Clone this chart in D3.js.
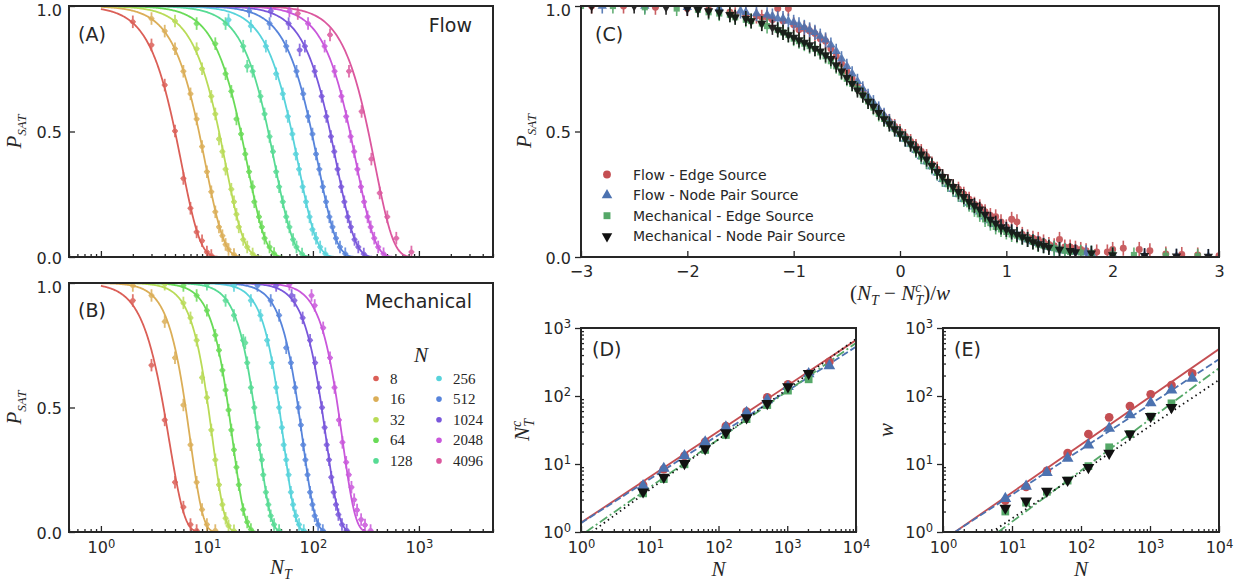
<!DOCTYPE html>
<html>
<head>
<meta charset="utf-8">
<script src="https://cdn.jsdelivr.net/npm/d3@7"></script>
<style>
  body { margin: 0; background: #fff; }
  svg { display: block; }
</style>
</head>
<body>
<script>
// ---- data ----
const sizes = [8, 16, 32, 64, 128, 256, 512, 1024, 2048, 4096];

// fit parameters for the P_SAT curves (midpoint N_T where P = 0.5, shape)
const flowNc = [5.0, 8.4, 13.0, 20.8, 37.9, 63, 97, 145, 223, 333];
const flowK = [2.5, 2.5, 2.5, 2.5, 2.5, 2.5, 2.5, 2.5, 2.5, 2.5];
const mechNc = [3.9, 6.3, 10.3, 15.9, 27.9, 48.1, 72.6, 121, 172];
const mechK = [3.0, 3.6, 3.8, 3.8, 3.8, 3.9, 3.7, 3.6, 3.6];

// measured points [N_T, P_SAT], one list per N
const flowPts = [
  [[2,.937],[3,.845],[4,.685],[5,.502],[6,.313],[7,.194],[8,.1],[9,.065],[10,.02],[11,.006]],
  [[3,.95],[4,.9],[5,.83],[6,.74],[7,.65],[8,.55],[9,.44],[10,.34],[11,.26],[12,.18],[13,.12],[14,.085],[15,.05],[16,.03],[18,.01]],
  [[5,.94],[8,.83],[9,.75],[11,.64],[12,.57],[13,.47],[14,.42],[15,.35],[17,.27],[18,.22],[19,.17],[20,.12],[22,.07],[24,.04],[27,.012]],
  [[8,.93],[12,.85],[15,.73],[17,.66],[19,.55],[21,.49],[23,.41],[25,.34],[27,.28],[28,.22],[31,.16],[33,.12],[35,.075],[39,.04],[43,.014]],
  [[15,.93],[22,.84],[24,.76],[27,.74],[32,.64],[35,.57],[39,.48],[42,.42],[45,.34],[48,.28],[52,.22],[56,.16],[60,.12],[65,.07],[70,.04],[79,.012]],
  [[16,.945],[26,.92],[36,.84],[45,.73],[52,.65],[58,.56],[64,.49],[69,.41],[74,.35],[80,.28],[86,.22],[93,.16],[99,.11],[107,.075],[117,.04],[131,.013]],
  [[25,.98],[39,.93],[56,.84],[70,.74],[81,.65],[90,.56],[99,.49],[107,.41],[115,.35],[124,.28],[133,.22],[143,.16],[153,.12],[165,.075],[180,.04],[202,.013]],
  [[40,.98],[59,.93],[75,.825],[84,.84],[104,.74],[121,.64],[134,.56],[148,.48],[159,.42],[171,.35],[185,.28],[198,.22],[213,.16],[228,.12],[247,.07],[268,.04],[302,.012]],
  [[60,.98],[90,.93],[129,.84],[160,.74],[186,.64],[206,.56],[227,.48],[245,.42],[263,.35],[284,.28],[304,.22],[328,.16],[351,.12],[379,.075],[413,.04],[464,.013]],
  [[72,.97],[145,.885],[219,.74],[288,.58],[356,.39],[427,.255],[503,.16],[612,.075],[850,.02]]
];
const mechPts = [
  [[2,.93],[3,.67],[4,.45],[5,.2],[6,.1],[7,.03],[8,.006]],
  [[2,.99],[3,.95],[4,.845],[5,.7],[6,.51],[7,.35],[8,.2],[9,.09],[10,.03],[12,.006]],
  [[4,.995],[6,.92],[7,.86],[8,.77],[9,.62],[10,.54],[11,.41],[12,.29],[13,.19],[14,.11],[15,.055],[16,.025],[18,.005]],
  [[6,.99],[8,.95],[10,.89],[12,.79],[13,.73],[14,.65],[15,.57],[16,.49],[17,.41],[18,.33],[19,.26],[20,.19],[22,.09],[24,.04],[26,.01]],
  [[10,.995],[15,.93],[18,.87],[22,.77],[23,.76],[24,.68],[26,.58],[28,.5],[30,.42],[31,.35],[33,.29],[34,.23],[36,.16],[38,.11],[40,.065],[43,.03],[48,.006]],
  [[18,.99],[26,.93],[32,.87],[37,.77],[41,.68],[45,.58],[48,.5],[51,.42],[53,.35],[56,.29],[59,.23],[62,.16],[65,.11],[69,.065],[74,.03],[82,.006]],
  [[30,.99],[40,.93],[48,.87],[56,.74],[62,.68],[68,.58],[73,.5],[77,.43],[81,.35],[85,.29],[89,.23],[94,.16],[99,.11],[104,.065],[112,.03],[124,.006]],
  [[45,.99],[63,.95],[67,.93],[80,.86],[94,.77],[105,.68],[114,.58],[122,.5],[129,.42],[135,.35],[142,.29],[149,.22],[157,.16],[165,.11],[174,.07],[188,.03],[208,.007]],
  [[60,.995],[97,.95],[104,.91],[125,.82],[145,.7],[160,.58],[176,.45],[190,.36],[206,.28],[218,.23],[231,.18],[245,.13],[261,.088],[285,.05],[310,.028],[350,.006]]
];

// collapsed data [(N_T - N_T^c)/w, P_SAT]
const cFlowEdge = [[-2.9,1],[-2.6,1],[-2.3,.995],[-2.0,.99],[-1.8,.985],[-1.6,.975],[-1.45,.965],[-1.3,.955],[-1.2,.945],[-1.15,.99],[-1.1,.94],[-1.05,.99],[-1.0,.925],[-0.9,.91],[-0.8,.89],[-0.7,.86],[-0.6,.8],[-0.5,.74],[-0.4,.68],[-0.3,.63],[-0.2,.58],[-0.1,.54],[0,.5],[0.1,.46],[0.2,.42],[0.3,.37],[0.4,.32],[0.5,.28],[0.6,.25],[0.7,.21],[0.8,.18],[0.9,.16],[1.0,.12],[1.1,.14],[1.2,.08],[1.3,.07],[1.4,.05],[1.5,.07],[1.6,.04],[1.7,.03],[1.85,.02],[2.0,.03],[2.1,.035],[2.25,.03],[2.35,.025],[2.5,.012],[2.65,.01],[2.8,.008],[3.0,.005],
  [-1.55,.965],[-1.35,.96],[-1.25,.955],[-0.95,.905],[-0.85,.9],[-0.75,.87],[-0.65,.83],[-0.55,.77],[-0.45,.71],[-0.35,.66],[-0.25,.6],[-0.15,.56],[-0.05,.52],[0.05,.48],[0.15,.44],[0.25,.4],[0.35,.35],[0.45,.3],[0.55,.27],[0.65,.23],[0.75,.2],[0.85,.165],[0.95,.14],[1.05,.15],[1.15,.09],[1.25,.075],[1.35,.06],[1.45,.045],[1.55,.04],[1.65,.035],[1.75,.025],[1.95,.02]];
const cFlowNode = [[-2.8,1],[-2.4,1],[-2.0,.995],[-1.7,.99],[-1.5,.98],[-1.35,.97],[-1.2,.96],[-1.1,.95],[-1.0,.935],[-0.9,.915],[-0.8,.895],[-0.7,.865],[-0.6,.82],[-0.5,.76],[-0.4,.7],[-0.3,.64],[-0.2,.59],[-0.1,.54],[0,.49],[0.1,.45],[0.2,.4],[0.3,.36],[0.4,.31],[0.5,.27],[0.6,.23],[0.7,.2],[0.8,.16],[0.9,.13],[1.0,.11],[1.1,.09],[1.2,.07],[1.3,.055],[1.4,.04],[1.5,.03],[1.65,.02],[1.8,.015],[2.0,.01],[2.3,.005],[2.6,.003],[2.9,.002],
  [-1.45,.975],[-1.25,.965],[-1.15,.95],[-1.05,.94],[-0.95,.925],[-0.85,.905],[-0.75,.88],[-0.65,.845],[-0.55,.79],[-0.45,.73],[-0.35,.67],[-0.25,.615],[-0.15,.565],[-0.05,.515],[0.05,.47],[0.15,.425],[0.25,.38],[0.35,.335],[0.45,.29],[0.55,.25],[0.65,.215],[0.75,.18],[0.85,.145],[0.95,.12],[1.05,.1],[1.15,.08],[1.25,.062],[1.35,.047],[1.45,.035],[1.55,.025],[1.75,.017]];
const cMechEdge = [[-3.0,1],[-2.7,1],[-2.4,.995],[-2.1,.99],[-1.9,.985],[-1.7,.97],[-1.55,.955],[-1.4,.94],[-1.25,.92],[-1.1,.895],[-1.0,.87],[-0.9,.85],[-0.8,.83],[-0.7,.8],[-0.6,.76],[-0.5,.71],[-0.4,.67],[-0.3,.62],[-0.2,.57],[-0.1,.53],[0,.49],[0.1,.45],[0.2,.4],[0.3,.36],[0.4,.31],[0.5,.27],[0.6,.23],[0.7,.19],[0.8,.15],[0.9,.12],[1.0,.1],[1.1,.085],[1.2,.07],[1.3,.05],[1.4,.04],[1.5,.03],[1.6,.02],[1.8,.015],[2.0,.01],[2.2,.008],[2.5,.005],[2.8,.003],
  [-1.8,.975],[-1.6,.965],[-1.45,.945],[-1.3,.93],[-1.15,.905],[-1.05,.885],[-0.95,.86],[-0.85,.84],[-0.75,.815],[-0.65,.78],[-0.55,.735],[-0.45,.69],[-0.35,.645],[-0.25,.595],[-0.15,.55],[-0.05,.51],[0.05,.47],[0.15,.425],[0.25,.38],[0.35,.335],[0.45,.29],[0.55,.25],[0.65,.21],[0.75,.17],[0.85,.135],[0.95,.11],[1.05,.09],[1.15,.078],[1.25,.06],[1.35,.045],[1.45,.035],[1.55,.025],[1.7,.018]];
const cMechNode = [[-2.9,1],[-2.5,1],[-2.2,.995],[-2.0,.99],[-1.8,.98],[-1.6,.965],[-1.45,.95],[-1.3,.93],[-1.15,.905],[-1.05,.885],[-0.95,.865],[-0.85,.845],[-0.75,.82],[-0.65,.79],[-0.55,.74],[-0.45,.69],[-0.35,.645],[-0.25,.6],[-0.15,.55],[-0.05,.51],[0.05,.47],[0.15,.43],[0.25,.39],[0.35,.34],[0.45,.3],[0.55,.26],[0.65,.22],[0.75,.19],[0.85,.15],[0.95,.12],[1.05,.1],[1.15,.08],[1.25,.06],[1.35,.045],[1.5,.03],[1.65,.02],[1.8,.015],[2.0,.008],[2.3,.005],[2.6,.003],[2.9,.002],
  [-1.9,.985],[-1.7,.975],[-1.55,.955],[-1.4,.94],[-1.2,.915],[-1.1,.895],[-1.0,.875],[-0.9,.855],[-0.8,.83],[-0.7,.805],[-0.6,.765],[-0.5,.715],[-0.4,.665],[-0.3,.62],[-0.2,.575],[-0.1,.53],[0,.49],[0.1,.45],[0.2,.41],[0.3,.365],[0.4,.32],[0.5,.28],[0.6,.24],[0.7,.205],[0.8,.17],[0.9,.135],[1.0,.11],[1.1,.09],[1.2,.07],[1.3,.052],[1.4,.038],[1.6,.025]];

// (D) critical N_T^c and (E) width w against N
const dFlowEdge = [4.9, 8.4, 13.2, 21.2, 36, 58.8, 95.6, 148, 215, 318];
const dFlowNode = [4.8, 8.6, 13.2, 21, 35, 57, 88, 137, 212, 278];
const dMechEdge = [3.7, 6.0, 9.9, 16.1, 26.7, 45.7, 73.6, 120, 176];
const dMechNode = [3.9, 6.4, 10.2, 16.8, 28.8, 48, 78, 137, 215];
const eFlowEdge = [2.9, 4.6, 7.9, 14.5, 27.6, 48.6, 71, 106, 145, 215];
const eFlowNode = [3.1, 4.7, 7.5, 12.1, 19, 33.5, 52.6, 79, 122, 182];
const eMechEdge = [2.0, 2.7, 3.9, 5.7, 9.3, 17.6, 27.6, 50, 78];
const eMechNode = [2.25, 2.86, 4.0, 5.8, 8.9, 14.4, 27.6, 50, 68];

// power-law fit lines, end points [N, value]
const dFits = [[[1,1.37],[1e4,665]], [[1,1.35],[1e4,530]], [[1.18,1],[1e4,600]], [[1.43,1],[1e4,690]]];
const eFits = [[[1.49,1],[1e4,490]], [[1.49,1],[1e4,347]], [[6.3,1],[1e4,257]], [[5.1,1],[1e4,172]]];

const seriesNames = ["Flow - Edge Source", "Flow - Node Pair Source", "Mechanical - Edge Source", "Mechanical - Node Pair Source"];

// ---- styling ----
const ink = "#262626";
const pal = sizes.map((_, i) => d3.hsl((0.01 + i / 10) * 360, 0.65, 0.6).formatHex());
const sCol = ["#c44e52", "#4c72b0", "#55a868", "#111111"];
const sSym = [d3.symbolCircle, d3.symbolTriangle, d3.symbolSquare, d3.symbolTriangle];
const sRot = [0, 0, 0, 180];
const sDash = [null, "7,3", "9,3,2,3", "1.5,3.5"];

const W = 1246, H = 586;
const svg = d3.select("body").append("svg")
  .attr("width", W).attr("height", H)
  .style("font-family", "'DejaVu Sans', sans-serif");

const fitP = (n, nc, k) => Math.exp(-Math.LN2 * Math.pow(n / nc, k));

function logTicks(lo, hi) {
  const major = [], minor = [];
  for (let e = Math.floor(Math.log10(lo)); e <= Math.ceil(Math.log10(hi)); e++) {
    for (let m = 1; m < 10; m++) {
      const v = m * Math.pow(10, e);
      if (v < lo * 0.999 || v > hi * 1.001) continue;
      (m === 1 ? major : minor).push(v);
    }
  }
  return { major, minor };
}

function supText(sel) {
  sel.each(function (d) {
    const t = d3.select(this);
    const e = Math.round(Math.log10(d));
    t.text(null);
    t.append("tspan").text("10");
    t.append("tspan").attr("dy", "-0.5em").attr("font-size", "0.72em").text(e);
  });
}

function styleAxis(g) {
  g.select(".domain").remove();
  g.selectAll(".tick line").attr("stroke", ink).attr("stroke-width", 1.3);
  g.selectAll(".tick text").attr("fill", ink).attr("font-size", 16)
    .attr("font-family", "'DejaVu Sans', sans-serif");
}

// keep the top "1.0" label inside the picture
function unitTicks(gy) {
  gy.selectAll(".tick text").attr("dy", d => d === 1 ? "0.57em" : "0.38em");
}

function frame(x0, y0, x1, y1) {
  svg.append("rect").attr("x", x0).attr("y", y0).attr("width", x1 - x0).attr("height", y1 - y0)
    .attr("fill", "none").attr("stroke", ink).attr("stroke-width", 2);
}

function clip(id, x0, y0, x1, y1) {
  svg.append("clipPath").attr("id", id).append("rect")
    .attr("x", x0).attr("y", y0).attr("width", x1 - x0).attr("height", y1 - y0);
}

function mathLabel(x, y, parts, rotate) {
  const t = svg.append("text").attr("x", x).attr("y", y)
    .attr("font-family", "'Liberation Serif', serif").attr("font-style", "italic")
    .attr("font-size", 21).attr("fill", ink).attr("text-anchor", "middle");
  if (rotate) t.attr("transform", `rotate(-90,${x},${y})`);
  parts.forEach(p => {
    const s = t.append("tspan").text(p.t);
    if (p.dy) s.attr("dy", p.dy);
    if (p.dx) s.attr("dx", p.dx);
    if (p.fs) s.attr("font-size", p.fs);
    if (p.up) s.attr("font-style", "normal");
  });
  return t;
}

const line = (x, y) => d3.line().x(d => x(d[0])).y(d => y(d[1]));

// ---- panels A and B ----
function sweepPanel(top, bottom, ncs, ks, pts, showX) {
  const x = d3.scaleLog().domain([0.5, 5000]).range([69, 493]);
  const y = d3.scaleLinear().domain([0, 1]).range([bottom, top]);
  const id = "clip" + top;
  clip(id, 69, top, 493, bottom);
  const lt = logTicks(0.5, 5000);

  const gx = svg.append("g").attr("transform", `translate(0,${bottom})`)
    .call(d3.axisBottom(x).tickValues(lt.major).tickSize(-6).tickPadding(10));
  styleAxis(gx);
  if (showX) gx.selectAll(".tick text").call(supText); else gx.selectAll(".tick text").remove();
  const gm = svg.append("g").attr("transform", `translate(0,${bottom})`)
    .call(d3.axisBottom(x).tickValues(lt.minor).tickSize(-3).tickFormat(""));
  styleAxis(gm);
  const gy = svg.append("g").attr("transform", "translate(69,0)")
    .call(d3.axisLeft(y).tickValues([0, 0.5, 1]).tickFormat(d3.format(".1f")).tickSize(-6).tickPadding(7));
  styleAxis(gy);
  unitTicks(gy);

  const plot = svg.append("g").attr("clip-path", `url(#${id})`);
  ncs.forEach((nc, i) => {
    const hi = Math.log10(nc * 3.4);
    const curve = d3.range(0, 241).map(j => {
      const n = Math.pow(10, hi * j / 240);
      return [n, fitP(n, nc, ks[i])];
    });
    plot.append("path").datum(curve).attr("d", line(x, y))
      .attr("fill", "none").attr("stroke", pal[i]).attr("stroke-width", 1.8);
  });
  pts.forEach((set, i) => {
    const g = plot.append("g").attr("fill", pal[i]).attr("stroke", pal[i]).attr("opacity", 0.85);
    g.selectAll("line.v").data(set).join("line").attr("class", "v")
      .attr("x1", d => x(d[0])).attr("x2", d => x(d[0]))
      .attr("y1", d => y(Math.min(1, d[1] + 0.025))).attr("y2", d => y(Math.max(0, d[1] - 0.025)))
      .attr("stroke-width", 1.8);
    g.selectAll("line.h").data(set).join("line").attr("class", "h")
      .attr("x1", d => x(d[0]) - 3).attr("x2", d => x(d[0]) + 3)
      .attr("y1", d => y(d[1])).attr("y2", d => y(d[1]))
      .attr("stroke-width", 1.4);
    g.selectAll("circle").data(set).join("circle")
      .attr("cx", d => x(d[0])).attr("cy", d => y(d[1])).attr("r", 2.5).attr("stroke", "none");
  });
  frame(69, top, 493, bottom);
  mathLabel(21, (top + bottom) / 2, [{ t: "P" }, { t: "SAT", dy: 5, fs: 13 }], true);
}

sweepPanel(6, 257, flowNc, flowK, flowPts, false);
sweepPanel(283, 532, mechNc, mechK, mechPts, true);

svg.append("text").attr("x", 78).attr("y", 41).attr("font-size", 19).attr("fill", ink).text("(A)");
svg.append("text").attr("x", 78).attr("y", 317).attr("font-size", 19).attr("fill", ink).text("(B)");
svg.append("text").attr("x", 472).attr("y", 32).attr("font-size", 19).attr("fill", ink)
  .attr("text-anchor", "end").text("Flow");
svg.append("text").attr("x", 472).attr("y", 308).attr("font-size", 19).attr("fill", ink)
  .attr("text-anchor", "end").text("Mechanical");
mathLabel(281, 574, [{ t: "N" }, { t: "T", dy: 5, fs: 14 }]);

// legend of B
svg.append("text").attr("x", 421).attr("y", 362).attr("text-anchor", "middle")
  .attr("font-family", "'Liberation Serif', serif").attr("font-style", "italic")
  .attr("font-size", 21).attr("fill", ink).text("N");
sizes.forEach((s, i) => {
  const col = Math.floor(i / 5), row = i % 5;
  const cx = col ? 439 : 376, cy = 378.5 + row * 20.6;
  svg.append("circle").attr("cx", cx).attr("cy", cy).attr("r", 2.8).attr("fill", pal[i]);
  svg.append("text").attr("x", cx + 14).attr("y", cy + 5)
    .attr("font-family", "'Liberation Serif', serif").attr("font-size", 15)
    .attr("fill", ink).text(s);
});

// ---- panel C ----
{
  const x = d3.scaleLinear().domain([-3, 3]).range([581, 1219]);
  const y = d3.scaleLinear().domain([0, 1]).range([257, 6]);
  clip("clipC", 581, 6, 1219, 257);
  const gx = svg.append("g").attr("transform", "translate(0,257)")
    .call(d3.axisBottom(x).tickValues([-3, -2, -1, 0, 1, 2, 3]).tickFormat(d3.format("d")).tickSize(-6).tickPadding(9));
  styleAxis(gx);
  const gy = svg.append("g").attr("transform", "translate(581,0)")
    .call(d3.axisLeft(y).tickValues([0, 0.5, 1]).tickFormat(d3.format(".1f")).tickSize(6).tickPadding(4));
  styleAxis(gy);
  unitTicks(gy);
  const plot = svg.append("g").attr("clip-path", "url(#clipC)");
  [cFlowEdge, cFlowNode, cMechEdge, cMechNode].forEach((set, k) => {
    const g = plot.append("g").attr("fill", sCol[k]).attr("stroke", sCol[k]).attr("opacity", 0.9);
    g.selectAll("line").data(set).join("line")
      .attr("x1", d => x(d[0])).attr("x2", d => x(d[0]))
      .attr("y1", d => y(d[1] + 0.03)).attr("y2", d => y(d[1] - 0.03)).attr("stroke-width", 1.6);
    g.selectAll("path").data(set).join("path")
      .attr("d", d3.symbol(sSym[k], 38))
      .attr("transform", d => `translate(${x(d[0])},${y(d[1])}) rotate(${sRot[k]})`)
      .attr("stroke", "none");
  });
  frame(581, 6, 1219, 257);
  mathLabel(531, 131, [{ t: "P" }, { t: "SAT", dy: 5, fs: 13 }], true);
  mathLabel(900, 300, [
    { t: "(", up: true }, { t: "N" }, { t: "T", dy: 5, fs: 14 }, { t: " − ", dy: -5, up: true },
    { t: "N" }, { t: "c", dy: -8, fs: 14 }, { t: "T", dx: -6, dy: 13, fs: 14 }, { t: ")/", dy: -5, up: true }, { t: "w" }
  ]);
  svg.append("text").attr("x", 595).attr("y", 41).attr("font-size", 19).attr("fill", ink).text("(C)");
  seriesNames.forEach((name, k) => {
    const cy = 174.5 + k * 20.6;
    svg.append("path").attr("d", d3.symbol(sSym[k], 48)())
      .attr("transform", `translate(607,${cy}) rotate(${sRot[k]})`).attr("fill", sCol[k]);
    svg.append("text").attr("x", 633).attr("y", cy + 5).attr("font-size", 14).attr("fill", ink).text(name);
  });
}

// ---- panels D and E ----
function scalingPanel(x0, x1, label, vals, fits) {
  const top = 328, bottom = 532;
  const x = d3.scaleLog().domain([1, 1e4]).range([x0, x1]);
  const y = d3.scaleLog().domain([1, 1e3]).range([bottom, top]);
  const id = "clip" + x0;
  clip(id, x0, top, x1, bottom);
  const lx = logTicks(1, 1e4), ly = logTicks(1, 1e3);
  const gx = svg.append("g").attr("transform", `translate(0,${bottom})`)
    .call(d3.axisBottom(x).tickValues(lx.major).tickSize(-6).tickPadding(10));
  styleAxis(gx);
  gx.selectAll(".tick text").call(supText);
  styleAxis(svg.append("g").attr("transform", `translate(0,${bottom})`)
    .call(d3.axisBottom(x).tickValues(lx.minor).tickSize(-3).tickFormat("")));
  const gy = svg.append("g").attr("transform", `translate(${x0},0)`)
    .call(d3.axisLeft(y).tickValues(ly.major).tickSize(6).tickPadding(4));
  styleAxis(gy);
  gy.selectAll(".tick text").call(supText);
  styleAxis(svg.append("g").attr("transform", `translate(${x0},0)`)
    .call(d3.axisLeft(y).tickValues(ly.minor).tickSize(-3).tickFormat("")));

  const plot = svg.append("g").attr("clip-path", `url(#${id})`);
  fits.forEach((f, k) => {
    plot.append("path").datum(f).attr("d", line(x, y)).attr("fill", "none")
      .attr("stroke", sCol[k]).attr("stroke-width", 1.8)
      .attr("stroke-dasharray", sDash[k]);
  });
  vals.forEach((v, k) => {
    plot.append("g").selectAll("path").data(v).join("path")
      .attr("d", d3.symbol(sSym[k], 60))
      .attr("transform", (d, i) => `translate(${x(sizes[i])},${y(d)}) rotate(${sRot[k]})`)
      .attr("fill", sCol[k]);
  });
  frame(x0, top, x1, bottom);
  svg.append("text").attr("x", x0 + 11).attr("y", 356).attr("font-size", 19).attr("fill", ink).text(label);
  mathLabel((x0 + x1) / 2, 576, [{ t: "N" }]);
}

scalingPanel(581, 856, "(D)", [dFlowEdge, dFlowNode, dMechEdge, dMechNode], dFits);
scalingPanel(943, 1219, "(E)", [eFlowEdge, eFlowNode, eMechEdge, eMechNode], eFits);
mathLabel(529, 430, [{ t: "N" }, { t: "c", dy: -8, fs: 14 }, { t: "T", dx: -6, dy: 13, fs: 14 }], true);
mathLabel(893, 430, [{ t: "w" }], true);
</script>
</body>
</html>
